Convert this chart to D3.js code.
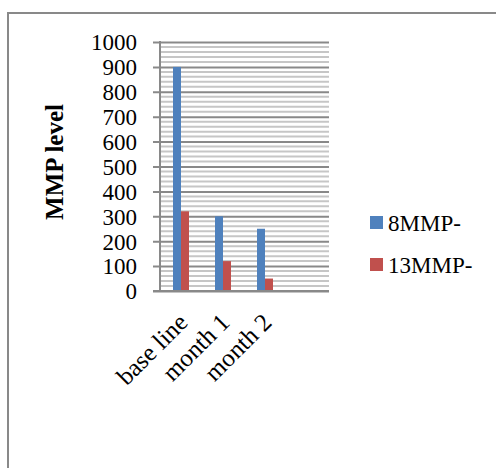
<!DOCTYPE html>
<html>
<head>
<meta charset="utf-8">
<script src="https://cdn.jsdelivr.net/npm/d3@7"></script>
<style>
  body { margin: 0; background: #fff; }
  svg { display: block; }
</style>
</head>
<body>
<svg id="chart" width="496" height="468"></svg>
<script>
// chart data
var categories = ["base line", "month 1", "month 2", ""];
var seriesNames = ["8MMP-", "13MMP-"];
var mmp8 = [900, 300, 250, null];
var mmp13 = [320, 120, 50, null];
var yTicks = [0, 100, 200, 300, 400, 500, 600, 700, 800, 900, 1000];

var colors = { "8MMP-": "#4f81bd", "13MMP-": "#c0504d" };
var axisGray = "#898989",
    minorGray = "#c6c6c6";
var serif = "'Liberation Serif', 'Times New Roman', serif";

var plotLeft = 160, plotRight = 328, plotTop = 42, plotBottom = 291;

var svg = d3.select("#chart");

// outer frame of the chart box (runs off the page at right and bottom)
svg.append("rect")
    .attr("x", 8).attr("y", 13)
    .attr("width", 520).attr("height", 480)
    .attr("fill", "none")
    .attr("stroke", axisGray)
    .attr("stroke-width", 2);

var y = d3.scaleLinear().domain([0, 1000]).range([plotBottom, plotTop]);

var x = d3.scaleBand().domain(categories).range([plotLeft, plotRight]);

var x1 = d3.scaleBand()
    .domain(seriesNames)
    .range([0, x.bandwidth()])
    .paddingOuter(1.625);

// minor gridlines every 20
svg.append("g")
    .selectAll("line")
    .data(d3.range(0, 1001, 20).filter(function(d) { return d % 100 != 0; }))
    .enter().append("line")
    .attr("x1", plotLeft).attr("x2", plotRight + 1)
    .attr("y1", function(d) { return y(d); })
    .attr("y2", function(d) { return y(d); })
    .attr("stroke", minorGray)
    .attr("stroke-width", 2);

// major gridlines + y axis
var yAxis = svg.append("g")
    .attr("transform", "translate(" + plotLeft + ",0)")
    .call(d3.axisLeft(y).tickValues(yTicks).tickFormat(d3.format("d")).tickSize(7).tickPadding(16));
yAxis.select(".domain").remove();
yAxis.selectAll(".tick line")
    .attr("x1", -7).attr("x2", plotRight + 1 - plotLeft)
    .attr("stroke", axisGray).attr("stroke-width", 2);
yAxis.selectAll(".tick text")
    .attr("font-family", serif)
    .attr("font-size", 23)
    .attr("fill", "#000")
    .attr("dy", "0.34em");

svg.append("line")
    .attr("x1", plotLeft).attr("x2", plotLeft)
    .attr("y1", plotTop - 1).attr("y2", plotBottom)
    .attr("stroke", axisGray).attr("stroke-width", 2);

// bars
var rows = categories.map(function(c, i) {
    return { cat: c, values: [{ s: "8MMP-", v: mmp8[i] }, { s: "13MMP-", v: mmp13[i] }] };
});

var groups = svg.selectAll(".grp")
    .data(rows)
    .enter().append("g")
    .attr("class", "grp")
    .attr("transform", function(d) { return "translate(" + x(d.cat) + ",0)"; });

groups.selectAll("rect")
    .data(function(d) { return d.values.filter(function(e) { return e.v != null; }); })
    .enter().append("rect")
    .attr("x", function(d) { return x1(d.s); })
    .attr("width", x1.bandwidth())
    .attr("y", function(d) { return y(d.v); })
    .attr("height", function(d) { return plotBottom - y(d.v); })
    .attr("fill", function(d) { return colors[d.s]; });

// x axis
var xAxis = svg.append("g")
    .attr("transform", "translate(0," + plotBottom + ")")
    .call(d3.axisBottom(x).tickSize(0).tickPadding(0));
xAxis.select(".domain").remove();
xAxis.selectAll(".tick text")
    .attr("font-family", serif)
    .attr("font-size", 25)
    .attr("fill", "#000")
    .attr("text-anchor", "end")
    .attr("dy", 0)
    .attr("transform", "translate(8,33) rotate(-45)");

svg.append("line")
    .attr("x1", plotLeft - 7).attr("x2", plotRight + 1)
    .attr("y1", plotBottom).attr("y2", plotBottom)
    .attr("stroke", axisGray).attr("stroke-width", 2);

// y title
svg.append("text")
    .attr("transform", "translate(63,162) rotate(-90)")
    .attr("text-anchor", "middle")
    .attr("font-family", serif)
    .attr("font-weight", "bold")
    .attr("font-size", 25)
    .text("MMP level");

// legend
var legend = svg.selectAll(".leg")
    .data(seriesNames)
    .enter().append("g")
    .attr("class", "leg")
    .attr("transform", function(d, i) { return "translate(370," + (216 + i * 42) + ")"; });

legend.append("rect")
    .attr("width", 13).attr("height", 13)
    .attr("fill", function(d) { return colors[d]; });

legend.append("text")
    .attr("x", 18).attr("y", 15)
    .attr("font-family", serif)
    .attr("font-size", 23)
    .text(function(d) { return d; });
</script>
</body>
</html>
